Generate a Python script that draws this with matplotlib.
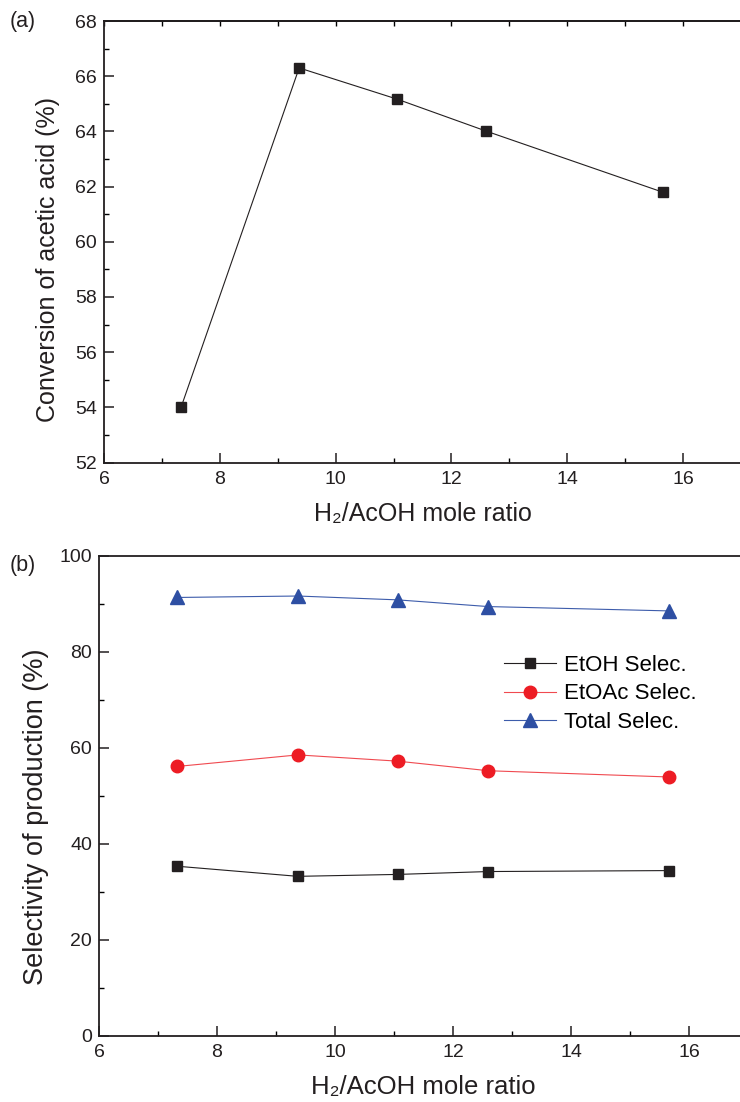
import matplotlib
matplotlib.use("Agg")
import matplotlib.pyplot as plt
from matplotlib.ticker import MultipleLocator

plt.rcParams['font.family'] = ['Liberation Sans', 'DejaVu Sans']

# ---- data ----
ratio = [7.33, 9.37, 11.06, 12.6, 15.66]
conversion = [54.0, 66.3, 65.17, 64.01, 61.79]
etoh_sel = [35.3, 33.2, 33.6, 34.2, 34.4]
etoac_sel = [56.1, 58.5, 57.2, 55.2, 53.9]
total_sel = [91.3, 91.6, 90.8, 89.4, 88.5]
series_labels = ["EtOH Selec.", "EtOAc Selec.", "Total Selec."]
xlabel = "H\u2082/AcOH mole ratio"

black = "#231f20"
red = "#ed1c24"
red_line = "#f04a50"
blue = "#2e4fa3"
blue_line = "#3d5cab"

fig = plt.figure(figsize=(7.4, 11.02), dpi=100)
W, H = 740.0, 1102.0

def style(ax):
    for s in ['left', 'bottom', 'top']:
        ax.spines[s].set_linewidth(1.3)
        ax.spines[s].set_color(black)
    ax.spines['right'].set_visible(False)
    ax.tick_params(axis='both', which='major', direction='in', length=7, width=1.1,
                   labelsize=14, colors=black, right=False, top=False)
    ax.tick_params(axis='both', which='minor', direction='in', length=3.5, width=1.0,
                   right=False, top=False)
    ax.tick_params(axis='x', pad=6)
    ax.tick_params(axis='y', pad=5)

# ---- panel (a) ----
ax1 = fig.add_axes([104 / W, 1 - 462.6 / H, (741 - 104) / W, (462.6 - 21) / H])
ax1.plot(ratio, conversion, color=black, lw=0.8, marker='s', ms=7.8, mfc=black, mec=black)
ax1.set_xlim(6, 17)
ax1.set_ylim(52, 68)
ax1.xaxis.set_major_locator(MultipleLocator(2))
ax1.xaxis.set_minor_locator(MultipleLocator(1))
ax1.yaxis.set_major_locator(MultipleLocator(2))
ax1.yaxis.set_minor_locator(MultipleLocator(1))
style(ax1)
sec = ax1.secondary_xaxis('top')
sec.xaxis.set_major_locator(MultipleLocator(1))
sec.tick_params(direction='in', length=3.5, width=1.0, labeltop=False)
sec.spines['top'].set_linewidth(1.3)
ax1.set_xlabel(xlabel, fontsize=18, color=black, labelpad=10)
ax1.set_ylabel("Conversion of acetic acid (%)", fontsize=18, color=black)
ax1.yaxis.set_label_coords((60 - 104) / 637, 0.459)
fig.text(10 / W, 1 - 22 / H, "(a)", fontsize=15.5, color=black, va='center', ha='left')

# ---- panel (b) ----
ax2 = fig.add_axes([99 / W, 1 - 1035.7 / H, (748 - 99) / W, (1035.7 - 555.7) / H])
ax2.plot(ratio, etoh_sel, color=black, lw=0.8, marker='s', ms=7.5, mfc=black, mec=black,
         label=series_labels[0])
ax2.plot(ratio, etoac_sel, color=red_line, lw=0.8, marker='o', ms=9, mfc=red, mec=red,
         label=series_labels[1])
ax2.plot(ratio, total_sel, color=blue_line, lw=0.8, marker='^', ms=10, mfc=blue, mec=blue,
         label=series_labels[2])
ax2.set_xlim(6, 17)
ax2.set_ylim(0, 100)
ax2.xaxis.set_major_locator(MultipleLocator(2))
ax2.xaxis.set_minor_locator(MultipleLocator(1))
ax2.yaxis.set_major_locator(MultipleLocator(20))
ax2.yaxis.set_minor_locator(MultipleLocator(10))
style(ax2)
ax2.set_xlabel(xlabel, fontsize=18.5, color=black, labelpad=10)
ax2.set_ylabel("Selectivity of production (%)", fontsize=19.5, color=black)
ax2.yaxis.set_label_coords((49 - 99) / 649, 0.457)
ax2.legend(loc='upper left', bbox_to_anchor=(0.611, 0.812), frameon=False, fontsize=16,
           handlelength=2.3, handletextpad=0.36, labelspacing=0.34, borderaxespad=0)
fig.text(10 / W, 1 - 565 / H, "(b)", fontsize=15.5, color=black, va='center', ha='left')

fig.savefig("out.png", dpi=100)
